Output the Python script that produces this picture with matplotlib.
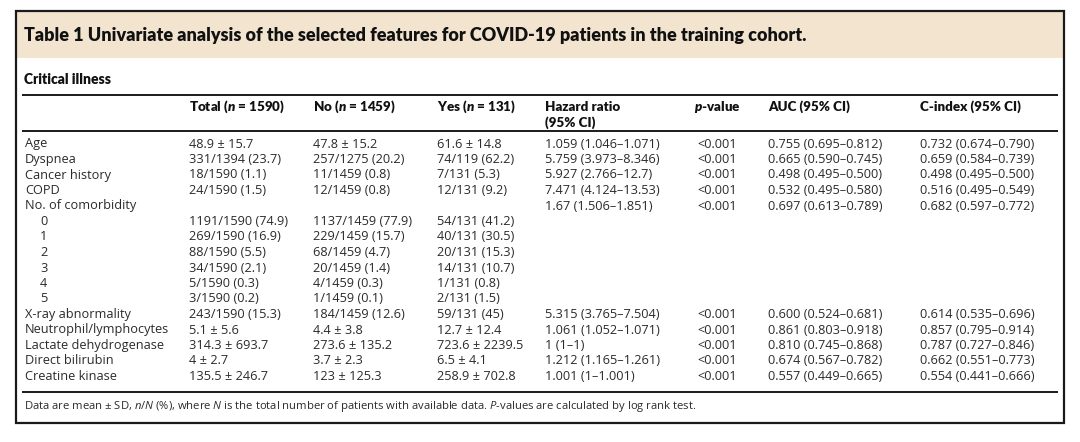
import matplotlib
matplotlib.use("Agg")
import matplotlib.pyplot as plt
from matplotlib.patches import Rectangle

plt.rcParams['font.family'] = ['Open Sans', 'DejaVu Sans']
plt.rcParams['mathtext.fontset'] = 'custom'
plt.rcParams['mathtext.rm'] = 'Open Sans'
plt.rcParams['mathtext.it'] = 'Open Sans:italic'
plt.rcParams['mathtext.bf'] = 'Lato:heavy'
plt.rcParams['mathtext.bfit'] = 'Lato:heavy:italic'

title = "Table 1 Univariate analysis of the selected features for COVID-19 patients in the training cohort."
subtitle = "Critical illness"
footnote = ("Data are mean ± SD, $n/N$ (%), where $N$ is the total number of patients "
            "with available data. $P$-values are calculated by log rank test.")

headers = ["Total ($\\mathbfit{n}$ = 1590)", "No ($\\mathbfit{n}$ = 1459)", "Yes ($\\mathbfit{n}$ = 131)",
           "Hazard ratio\n(95% CI)", "$\\mathbfit{p}$-value", "AUC (95% CI)", "C-index (95% CI)"]

features = ["Age", "Dyspnea", "Cancer history", "COPD", "No. of comorbidity",
            "0", "1", "2", "3", "4", "5",
            "X-ray abnormality", "Neutrophil/lymphocytes", "Lactate dehydrogenase",
            "Direct bilirubin", "Creatine kinase"]
indented = ["0", "1", "2", "3", "4", "5"]

total = ["48.9 ± 15.7", "331/1394 (23.7)", "18/1590 (1.1)", "24/1590 (1.5)", "",
         "1191/1590 (74.9)", "269/1590 (16.9)", "88/1590 (5.5)", "34/1590 (2.1)",
         "5/1590 (0.3)", "3/1590 (0.2)", "243/1590 (15.3)", "5.1 ± 5.6",
         "314.3 ± 693.7", "4 ± 2.7", "135.5 ± 246.7"]
no_group = ["47.8 ± 15.2", "257/1275 (20.2)", "11/1459 (0.8)", "12/1459 (0.8)", "",
            "1137/1459 (77.9)", "229/1459 (15.7)", "68/1459 (4.7)", "20/1459 (1.4)",
            "4/1459 (0.3)", "1/1459 (0.1)", "184/1459 (12.6)", "4.4 ± 3.8",
            "273.6 ± 135.2", "3.7 ± 2.3", "123 ± 125.3"]
yes_group = ["61.6 ± 14.8", "74/119 (62.2)", "7/131 (5.3)", "12/131 (9.2)", "",
             "54/131 (41.2)", "40/131 (30.5)", "20/131 (15.3)", "14/131 (10.7)",
             "1/131 (0.8)", "2/131 (1.5)", "59/131 (45)", "12.7 ± 12.4",
             "723.6 ± 2239.5", "6.5 ± 4.1", "258.9 ± 702.8"]
hazard = ["1.059 (1.046–1.071)", "5.759 (3.973–8.346)", "5.927 (2.766–12.7)",
          "7.471 (4.124–13.53)", "1.67 (1.506–1.851)", "", "", "", "", "", "",
          "5.315 (3.765–7.504)", "1.061 (1.052–1.071)", "1 (1–1)",
          "1.212 (1.165–1.261)", "1.001 (1–1.001)"]
pvals = ["<0.001"] * 5 + [""] * 6 + ["<0.001"] * 5
auc = ["0.755 (0.695–0.812)", "0.665 (0.590–0.745)", "0.498 (0.495–0.500)",
       "0.532 (0.495–0.580)", "0.697 (0.613–0.789)", "", "", "", "", "", "",
       "0.600 (0.524–0.681)", "0.861 (0.803–0.918)", "0.810 (0.745–0.868)",
       "0.674 (0.567–0.782)", "0.557 (0.449–0.665)"]
cindex = ["0.732 (0.674–0.790)", "0.659 (0.584–0.739)", "0.498 (0.495–0.500)",
          "0.516 (0.495–0.549)", "0.682 (0.597–0.772)", "", "", "", "", "", "",
          "0.614 (0.535–0.696)", "0.857 (0.795–0.914)", "0.787 (0.727–0.846)",
          "0.662 (0.551–0.773)", "0.554 (0.441–0.666)"]

# layout in pixels
head_x = [189, 313, 437, 545, 694, 768, 920]
col_x = [189, 313, 437, 545, 697, 768, 920]
row_y0 = 144
row_dy = 15.5
txt_col = '#2b2b2b'
bold_font = ['Lato', 'DejaVu Sans']
fs = 9.2

fig = plt.figure(figsize=(10.8, 4.42), dpi=100)
ax = fig.add_axes([0, 0, 1, 1])
ax.set_xlim(0, 1080)
ax.set_ylim(442, 0)
ax.axis('off')

# title band + outer box
ax.add_patch(Rectangle((16, 11), 1048, 47, facecolor='#f3e4d0', edgecolor='none'))
ax.add_patch(Rectangle((16, 11), 1048, 412, facecolor='none', edgecolor='#1a1a1a', lw=1.6))

ax.text(24, 35, title, fontsize=13, fontweight='heavy', family=bold_font,
        color='#111111', va='center')
ax.text(24, 79, subtitle, fontsize=10, fontweight='heavy', family=bold_font,
        color='#111111', va='center')

for yy in [95, 131, 392]:
    ax.plot([22, 1058], [yy, yy], color='#1a1a1a', lw=1.4, solid_capstyle='butt')

for x, h in zip(head_x, headers):
    for k, line in enumerate(h.split('\n')):
        ax.text(x, 107 + 16 * k, line, fontsize=9.6, fontweight='heavy', family=bold_font,
                color='#111111', va='center')

columns = [total, no_group, yes_group, hazard, pvals, auc, cindex]
for i, feat in enumerate(features):
    y = row_y0 + i * row_dy
    fx = 40 if feat in indented and i >= 5 else 25
    ax.text(fx, y, feat, fontsize=fs, color=txt_col, va='center')
    for x, col in zip(col_x, columns):
        if col[i]:
            ax.text(x, y, col[i], fontsize=fs, color=txt_col, va='center')

ax.text(24, 407, footnote, fontsize=8.1, color=txt_col, va='center')

fig.savefig('out.png', dpi=100)
